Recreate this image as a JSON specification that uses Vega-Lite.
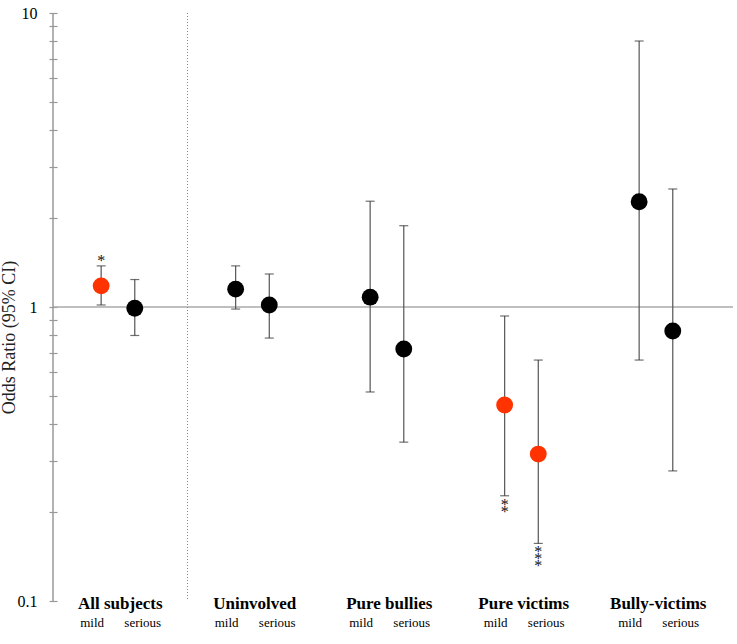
{
  "$schema": "https://vega.github.io/schema/vega-lite/v6.json",
  "width": 680,
  "height": 588,
  "autosize": "none",
  "padding": {"left": 53, "top": 13, "right": 4, "bottom": 43},
  "background": "white",
  "config": {"view": {"stroke": null}, "font": "Liberation Serif"},
  "data": {
    "values": [
      {"group": "All subjects", "severity": "mild", "or": 1.18, "lo": 1.016, "hi": 1.38, "sig": "*"},
      {"group": "All subjects", "severity": "serious", "or": 0.99, "lo": 0.80, "hi": 1.24, "sig": ""},
      {"group": "Uninvolved", "severity": "mild", "or": 1.15, "lo": 0.984, "hi": 1.38, "sig": ""},
      {"group": "Uninvolved", "severity": "serious", "or": 1.016, "lo": 0.784, "hi": 1.295, "sig": ""},
      {"group": "Pure bullies", "severity": "mild", "or": 1.08, "lo": 0.514, "hi": 2.29, "sig": ""},
      {"group": "Pure bullies", "severity": "serious", "or": 0.72, "lo": 0.347, "hi": 1.89, "sig": ""},
      {"group": "Pure victims", "severity": "mild", "or": 0.464, "lo": 0.228, "hi": 0.932, "sig": "*\n*"},
      {"group": "Pure victims", "severity": "serious", "or": 0.316, "lo": 0.157, "hi": 0.66, "sig": "*\n*\n*"},
      {"group": "Bully-victims", "severity": "mild", "or": 2.28, "lo": 0.66, "hi": 8.03, "sig": ""},
      {"group": "Bully-victims", "severity": "serious", "or": 0.829, "lo": 0.277, "hi": 2.52, "sig": ""}
    ]
  },
  "layer": [
    {
      "data": {"values": [{}]},
      "mark": {"type": "rule", "color": "#aaaaaa", "strokeWidth": 1.5},
      "encoding": {"y": {"datum": 1, "type": "quantitative"}}
    },
    {
      "data": {"values": [{}]},
      "mark": {"type": "rule", "color": "#888888", "strokeWidth": 1, "strokeDash": [1, 2]},
      "encoding": {"x": {"datum": "Uninvolved", "type": "nominal", "bandPosition": 0}}
    },
    {
      "data": {"values": [{}]},
      "mark": {"type": "rule", "color": "#999999", "strokeWidth": 1.5},
      "encoding": {"x": {"datum": "All subjects", "type": "nominal", "bandPosition": 0}}
    },
    {
      "mark": {"type": "rule", "color": "#555555", "strokeWidth": 1.2},
      "encoding": {
        "x": {
          "field": "group", "type": "nominal",
          "scale": {"domain": ["All subjects", "Uninvolved", "Pure bullies", "Pure victims", "Bully-victims"], "paddingInner": 0, "paddingOuter": 0.0279, "align": 0},
          "axis": {"title": null, "labelAngle": 0, "bandPosition": 0.5, "labelAlign": "center", "domain": false, "ticks": false, "grid": false, "labelFont": "Liberation Serif", "labelFontWeight": "bold", "labelFontSize": 17, "labelColor": "black", "labelPadding": 2}
        },
        "xOffset": {"field": "severity", "type": "nominal", "scale": {"domain": ["mild", "serious"], "paddingInner": 0, "paddingOuter": 1.4907, "align": 0.466}},
        "y": {
          "field": "lo", "type": "quantitative",
          "scale": {"type": "log", "domain": [0.1, 10], "nice": false},
          "axis": {
            "title": "Odds Ratio (95% CI)",
            "values": [0.1, 0.2, 0.3, 0.4, 0.5, 0.6, 0.7, 0.8, 0.9, 1, 2, 3, 4, 5, 6, 7, 8, 9, 10],
            "labelExpr": "datum.value == 10 ? '10' : datum.value == 1 ? '1' : datum.value == 0.1 ? '0.1' : ''",
            "labelOverlap": false,
            "offset": -4,
            "domain": false,
            "grid": false,
            "tickSize": 8,
            "tickColor": "#999999",
            "tickWidth": 1.2,
            "labelFont": "Liberation Serif",
            "labelFontSize": 16,
            "labelColor": "black",
            "labelPadding": 12,
            "titleFont": "Liberation Serif",
            "titleFontSize": 18,
            "titleFontWeight": "normal",
            "titleColor": "#222222",
            "titleAngle": -90,
            "titleX": -48,
            "titleY": 324,
            "titleAlign": "center",
            "titleBaseline": "middle"
          }
        },
        "y2": {"field": "hi"}
      }
    },
    {
      "mark": {"type": "tick", "color": "#333333", "size": 9, "thickness": 1.2},
      "encoding": {
        "x": {"field": "group", "type": "nominal"},
        "xOffset": {"field": "severity", "type": "nominal"},
        "y": {"field": "lo", "type": "quantitative", "title": "Odds Ratio (95% CI)"}
      }
    },
    {
      "mark": {"type": "tick", "color": "#333333", "size": 9, "thickness": 1.2},
      "encoding": {
        "x": {"field": "group", "type": "nominal"},
        "xOffset": {"field": "severity", "type": "nominal"},
        "y": {"field": "hi", "type": "quantitative", "title": "Odds Ratio (95% CI)"}
      }
    },
    {
      "mark": {"type": "circle", "size": 285, "opacity": 1},
      "encoding": {
        "x": {"field": "group", "type": "nominal"},
        "xOffset": {"field": "severity", "type": "nominal"},
        "y": {"field": "or", "type": "quantitative", "title": "Odds Ratio (95% CI)"},
        "color": {"condition": {"test": "datum.sig != ''", "value": "#ff3300"}, "value": "#000000"}
      }
    },
    {
      "transform": [{"filter": "datum.sig != '' && datum.group == 'All subjects'"}],
      "mark": {"type": "text", "baseline": "bottom", "fontSize": 16, "color": "#111111", "font": "Liberation Serif", "dy": 3},
      "encoding": {
        "x": {"field": "group", "type": "nominal"},
        "xOffset": {"field": "severity", "type": "nominal"},
        "y": {"field": "hi", "type": "quantitative", "title": "Odds Ratio (95% CI)"},
        "text": {"field": "sig"}
      }
    },
    {
      "transform": [{"filter": "datum.sig != '' && datum.group != 'All subjects'"}],
      "mark": {"type": "text", "baseline": "top", "fontSize": 16, "color": "#111111", "font": "Liberation Serif", "lineBreak": "\n", "lineHeight": 7, "dy": 1},
      "encoding": {
        "x": {"field": "group", "type": "nominal"},
        "xOffset": {"field": "severity", "type": "nominal"},
        "y": {"field": "lo", "type": "quantitative", "title": "Odds Ratio (95% CI)"},
        "text": {"field": "sig"}
      }
    },
    {
      "transform": [{"filter": "datum.severity == 'mild'"}],
      "mark": {"type": "text", "baseline": "middle", "fontSize": 13, "color": "black", "font": "Liberation Serif", "dy": 22, "dx": -9},
      "encoding": {
        "x": {"field": "group", "type": "nominal"},
        "xOffset": {"field": "severity", "type": "nominal"},
        "y": {"datum": 0.1, "type": "quantitative"},
        "text": {"field": "severity"}
      }
    },
    {
      "transform": [{"filter": "datum.severity == 'serious'"}],
      "mark": {"type": "text", "baseline": "middle", "fontSize": 13, "color": "black", "font": "Liberation Serif", "dy": 22, "dx": 8},
      "encoding": {
        "x": {"field": "group", "type": "nominal"},
        "xOffset": {"field": "severity", "type": "nominal"},
        "y": {"datum": 0.1, "type": "quantitative"},
        "text": {"field": "severity"}
      }
    }
  ]
}
